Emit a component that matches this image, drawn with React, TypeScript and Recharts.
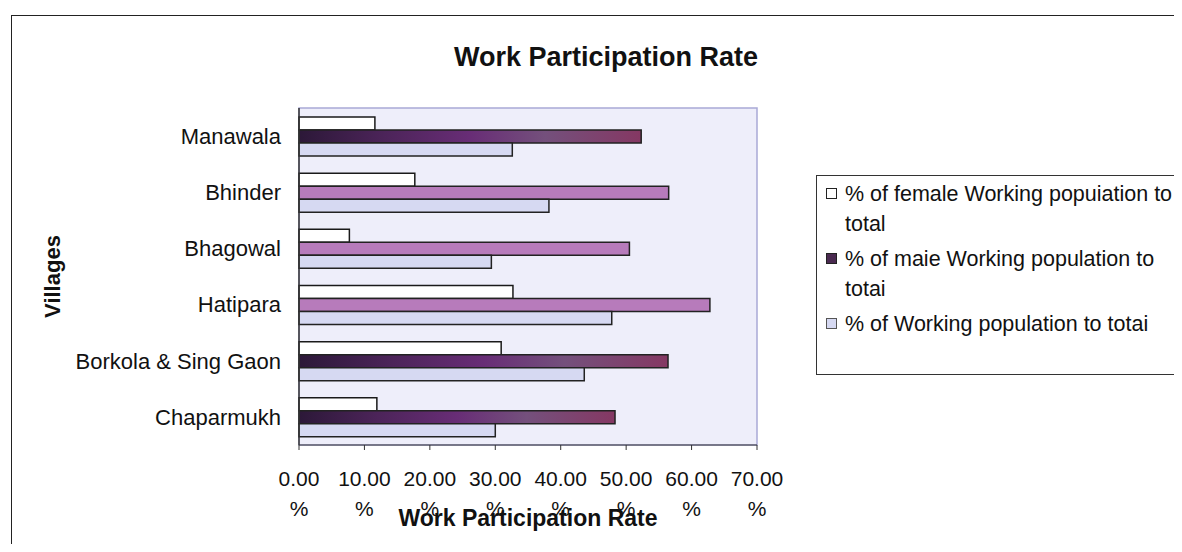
import {
  BarChart,
  Bar,
  XAxis,
  YAxis,
  Cell,
  CartesianGrid,
  ReferenceArea
} from "recharts"

const villages = ["Manawala", "Bhinder", "Bhagowal", "Hatipara", "Borkola & Sing Gaon", "Chaparmukh"]
const femaleRate = [11.6, 17.7, 7.7, 32.7, 30.9, 11.9]
const maleRate = [52.3, 56.5, 50.5, 62.8, 56.4, 48.3]
const totalRate = [32.6, 38.2, 29.4, 47.8, 43.6, 30.0]
const xTicks = [0, 10, 20, 30, 40, 50, 60, 70]

const seriesNames = [
  "% of female Working popuiation to total",
  "% of maie Working population to totai",
  "% of Working population to totai"
]

// fill of the male bar in each row (the scan shows two different renderings)
const maleFills = ["url(#maleDark)", "#b77bbb", "#b77bbb", "#b77bbb", "url(#maleDark)", "url(#maleDark)"]

const data = villages.map((v, i) => ({
  village: v,
  female: femaleRate[i],
  male: maleRate[i],
  total: totalRate[i]
}))

const FONT = "'Liberation Sans', Arial, sans-serif"

function XTick(props: any) {
  const { x, y, payload } = props
  return (
    <g>
      <text x={x} y={y + 34} textAnchor="middle" fontSize={21} fill="#111" fontFamily={FONT}>
        {Number(payload.value).toFixed(2)}
      </text>
      <text x={x} y={y + 64} textAnchor="middle" fontSize={21} fill="#111" fontFamily={FONT}>
        %
      </text>
    </g>
  )
}

function XTitle(props: any) {
  const vb = props.viewBox || {}
  return (
    <text
      x={vb.x + vb.width / 2}
      y={vb.y + 81}
      textAnchor="middle"
      fontSize={23}
      fontWeight="bold"
      fill="#111"
      fontFamily={FONT}
    >
      Work Participation Rate
    </text>
  )
}

function YTitle(props: any) {
  const vb = props.viewBox || {}
  const cx = vb.x - 9
  const cy = vb.y + vb.height / 2
  return (
    <text
      x={cx}
      y={cy}
      textAnchor="middle"
      fontSize={22}
      fontWeight="bold"
      fill="#111"
      fontFamily={FONT}
      transform={`rotate(-90 ${cx} ${cy})`}
    >
      Villages
    </text>
  )
}

const markers = [
  { fill: "#ffffff", stroke: "#222" },
  { fill: "#4a2a50", stroke: "#222" },
  { fill: "#d6d9f2", stroke: "#555" }
]

function LegendBox() {
  return (
    <div
      style={{
        position: "absolute",
        left: 816,
        top: 175,
        border: "1px solid #333",
        width: 420,
        height: 200,
        boxSizing: "border-box",
        padding: "3px 0 0 9px",
        fontFamily: FONT,
        fontSize: 21.5,
        lineHeight: "30px",
        color: "#111",
        background: "#fff"
      }}
    >
      {seriesNames.map((name, i) => (
        <div key={name} style={{ display: "flex", alignItems: "flex-start", marginBottom: 5 }}>
          <div
            style={{
              width: 11,
              height: 11,
              marginTop: 9,
              marginRight: 8,
              flex: "none",
              background: markers[i].fill,
              border: `1.5px solid ${markers[i].stroke}`,
              boxSizing: "border-box"
            }}
          />
          <div style={{ width: 345 }}>{name}</div>
        </div>
      ))}
    </div>
  )
}

export default function App() {
  return (
    <div style={{ position: "relative", width: 1182, height: 552, margin: -8, background: "#fff", overflow: "hidden" }}>
      <div
        style={{
          position: "absolute",
          left: 11,
          top: 15,
          width: 1300,
          height: 700,
          borderTop: "1.5px solid #222",
          borderLeft: "1.5px solid #222"
        }}
      />
      <div
        style={{
          position: "absolute",
          top: 44,
          left: 406,
          width: 400,
          textAlign: "center",
          fontFamily: FONT,
          fontWeight: "bold",
          fontSize: 27,
          lineHeight: "26px",
          color: "#111"
        }}
      >
        Work Participation Rate
      </div>
      <div style={{ position: "absolute", left: 0, top: 0 }}>
        <BarChart
          width={1182}
          height={552}
          data={data}
          layout="vertical"
          margin={{ top: 108, right: 425, bottom: 47, left: 69 }}
          barSize={13}
          barGap={0}
        >
          <defs>
            <linearGradient id="maleDark" x1="0" y1="0" x2="1" y2="0">
              <stop offset="0" stopColor="#2c1838" />
              <stop offset="0.25" stopColor="#4c2459" />
              <stop offset="0.5" stopColor="#682d76" />
              <stop offset="0.72" stopColor="#74507c" />
              <stop offset="1" stopColor="#853863" />
            </linearGradient>
          </defs>
          <CartesianGrid fill="#eeeefa" horizontal={false} vertical={false} />
          <ReferenceArea x1={0} x2={70} fill="none" stroke="#a9a9d6" strokeWidth={1.5} />
          <XAxis
            type="number"
            domain={[0, 70]}
            ticks={xTicks}
            tick={<XTick />}
            tickSize={5}
            height={60}
            axisLine={{ stroke: "#333" }}
            tickLine={{ stroke: "#333" }}
            label={<XTitle />}
          />
          <YAxis
            type="category"
            dataKey="village"
            width={230}
            tickLine={false}
            tickMargin={12}
            axisLine={{ stroke: "#333", strokeWidth: 1.5 }}
            tick={{ fontSize: 22, fill: "#111", fontFamily: FONT }}
            label={<YTitle />}
          />
          <Bar dataKey="female" name={seriesNames[0]} fill="#ffffff" stroke="#1a1a1a" strokeWidth={1.5} isAnimationActive={false} />
          <Bar dataKey="male" name={seriesNames[1]} fill="#b77bbb" stroke="#222" strokeWidth={1.5} isAnimationActive={false}>
            {data.map((d, i) => (
              <Cell key={d.village} fill={maleFills[i]} />
            ))}
          </Bar>
          <Bar dataKey="total" name={seriesNames[2]} fill="#d6d9f2" stroke="#222" strokeWidth={1.5} isAnimationActive={false} />
        </BarChart>
      </div>
      <LegendBox />
    </div>
  )
}
